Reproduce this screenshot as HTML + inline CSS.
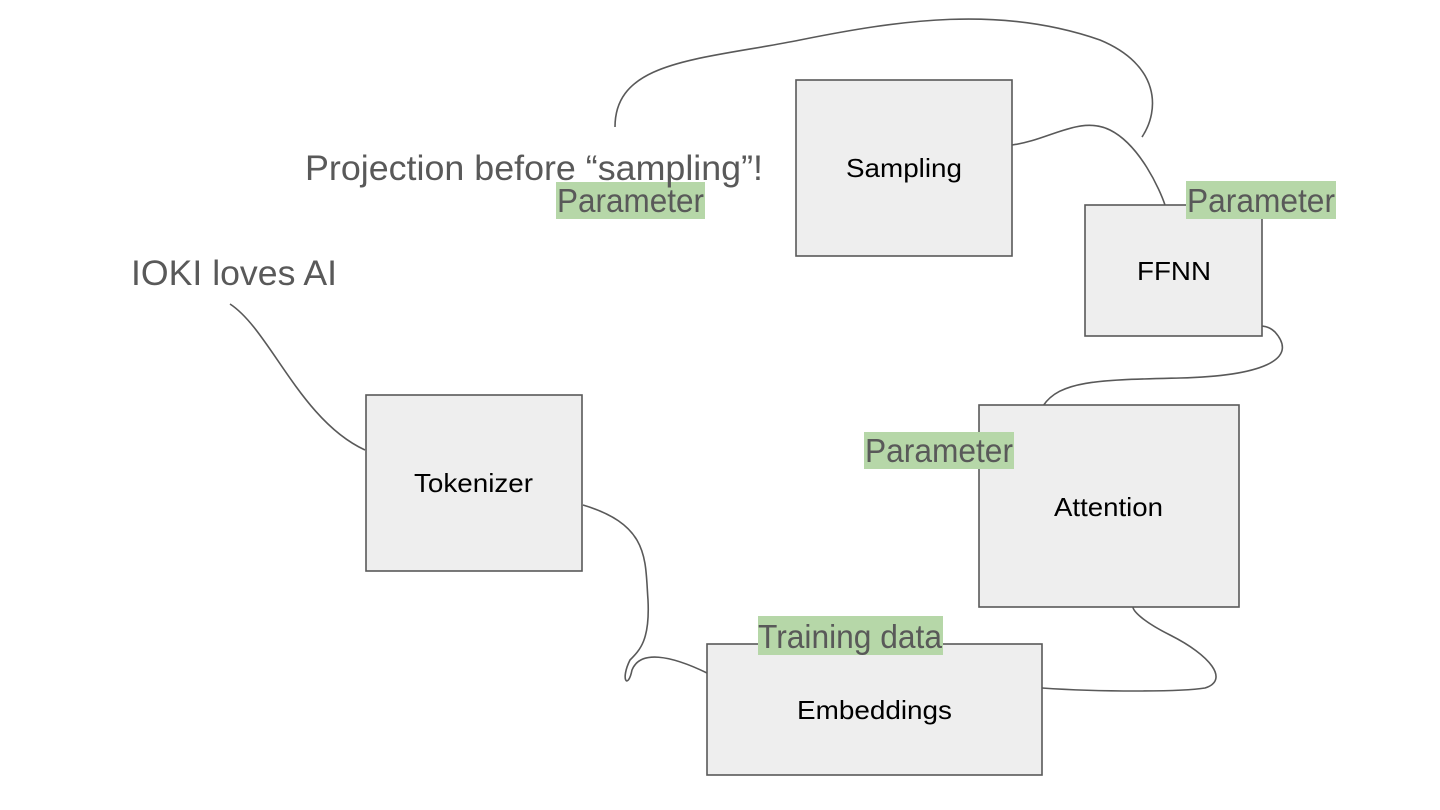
<!DOCTYPE html>
<html><head><meta charset="utf-8"><style>
html,body{margin:0;padding:0;background:#fff;}
svg{display:block;}
text{font-family:"Liberation Sans",Arial,sans-serif;}
</style></head><body>
<svg width="1440" height="810" viewBox="0 0 1440 810" xmlns="http://www.w3.org/2000/svg">
<g fill="none" stroke="#595959" stroke-width="1.6">
<path d="M230,304 C270,330 300,420 365,450"/>
<path d="M583,505 C650,525 645,560 648,600 C650,640 640,650 630,660 C620,680 628,690 632,670 C640,650 670,655 707,673"/>
<path d="M1042,688 C1100,692 1180,692 1205,688 C1230,680 1210,655 1170,635 C1140,620 1133,610 1133,607"/>
<path d="M1043,406 C1060,380 1100,380 1180,378 C1260,376 1300,360 1275,332 C1270,327 1265,326 1260,326"/>
<path d="M1012,145 C1050,140 1080,115 1110,130 C1140,145 1160,190 1165,205"/>
<path d="M615,127 C615,60 700,60 800,40 C900,20 1000,5 1100,40 C1160,65 1160,110 1142,137"/>
</g>
<g fill="#eeeeee" stroke="#595959" stroke-width="1.6">
<rect x="796" y="80" width="216" height="176"/>
<rect x="1085" y="205" width="177" height="131"/>
<rect x="366" y="395" width="216" height="176"/>
<rect x="979" y="405" width="260" height="202"/>
<rect x="707" y="644" width="335" height="131"/>
</g>
<g fill="#b6d7a8">
<rect x="556" y="182" width="149" height="37"/>
<rect x="1186" y="181" width="150" height="38"/>
<rect x="864" y="432" width="150" height="37"/>
<rect x="758" y="616" width="185" height="39"/>
</g>
<g fill="#595959" font-size="35">
<text x="305" y="180" textLength="458" lengthAdjust="spacingAndGlyphs">Projection before “sampling”!</text>
<text x="131" y="285" textLength="206" lengthAdjust="spacingAndGlyphs">IOKI loves AI</text>
</g>
<g fill="#595959" font-size="33">
<text x="557" y="212" textLength="147" lengthAdjust="spacingAndGlyphs">Parameter</text>
<text x="1187" y="212" textLength="148" lengthAdjust="spacingAndGlyphs">Parameter</text>
<text x="865" y="462" textLength="148" lengthAdjust="spacingAndGlyphs">Parameter</text>
<text x="758" y="648" textLength="184" lengthAdjust="spacingAndGlyphs">Training data</text>
</g>
<g fill="#000" font-size="26">
<text x="846" y="177" textLength="116" lengthAdjust="spacingAndGlyphs">Sampling</text>
<text x="1137" y="280" textLength="74" lengthAdjust="spacingAndGlyphs">FFNN</text>
<text x="414" y="492" textLength="119" lengthAdjust="spacingAndGlyphs">Tokenizer</text>
<text x="1054" y="516" textLength="109" lengthAdjust="spacingAndGlyphs">Attention</text>
<text x="797" y="719" textLength="155" lengthAdjust="spacingAndGlyphs">Embeddings</text>
</g>
</svg>
</body></html>
